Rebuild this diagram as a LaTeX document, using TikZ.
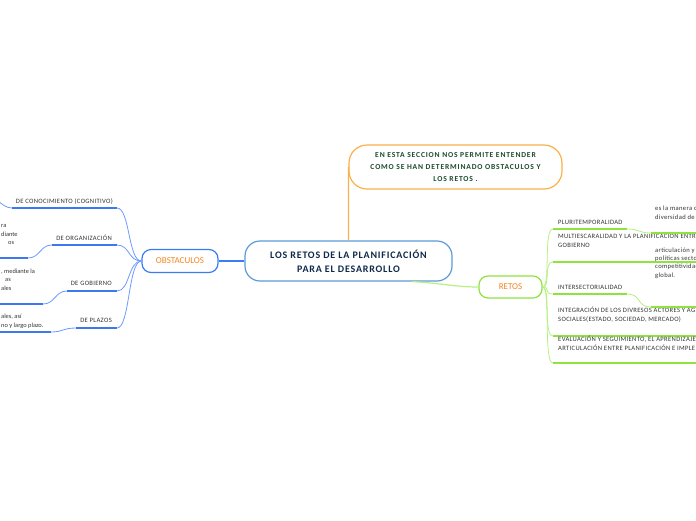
\documentclass[tikz,border=0pt]{standalone}
\usepackage{fontspec}
\setmainfont{Carlito}
\newfontfamily\lscentral[LetterSpace=8]{Carlito}
\newfontfamily\lstop[LetterSpace=11]{Carlito}
\newfontfamily\lssmall[LetterSpace=5]{Carlito}
\definecolor{bline}{HTML}{6C9BFF}
\definecolor{bthick}{HTML}{3D78F0}
\definecolor{bbox}{HTML}{3B7CF5}
\definecolor{cbox}{HTML}{5A9AD8}
\definecolor{gline}{HTML}{B6EF82}
\definecolor{gthick}{HTML}{8FE33E}
\definecolor{obox}{HTML}{F9B14A}
\definecolor{otext}{HTML}{F5861F}
\definecolor{navy}{HTML}{10294A}
\definecolor{dgreen}{HTML}{1C4A2C}
\definecolor{stext}{HTML}{333333}
\tikzset{
  central/.style={draw=cbox, line width=1.2pt, fill=white, rounded corners=15pt,
    minimum width=207pt, minimum height=40pt, align=center, text=navy,
    font=\lscentral\fontsize{10}{14}\selectfont\bfseries, inner sep=0pt},
  topbox/.style={draw=obox, line width=1.2pt, fill=white, rounded corners=18pt,
    minimum width=213pt, minimum height=44pt, align=center, text=dgreen,
    font=\lstop\fontsize{7.6}{12}\selectfont\bfseries, inner sep=0pt},
  mainbr/.style={line width=1.2pt, fill=white, rounded corners=9pt,
    minimum height=23pt, text=otext, font=\fontsize{9}{10}\selectfont, inner sep=0pt},
  small/.style={text=stext, font=\lssmall\fontsize{6.6}{9}\selectfont, inner sep=0pt},
  frag/.style={text=stext, font=\fontsize{6.4}{9}\selectfont, inner sep=0pt},
  bcurve/.style={draw=bline, line width=0.8pt},
  bunder/.style={draw=bthick, line width=1.8pt},
  gcurve/.style={draw=gline, line width=0.8pt},
  gunder/.style={draw=gthick, line width=1.8pt},
}
\begin{document}
\begin{tikzpicture}[x=1pt,y=-1pt]
\useasboundingbox (0,0) rectangle (696,520);
\clip (0,0) rectangle (696,520);

% central and top
\node[central] (c) at (348.5,261) {LOS RETOS DE LA PLANIFICACIÓN\\PARA EL DESARROLLO};
\node[topbox] (t) at (455.5,167) {EN ESTA SECCION NOS PERMITE ENTENDER\\COMO SE HAN DETERMINADO OBSTACULOS Y\\LOS RETOS .};
\draw[draw=obox, line width=1.2pt] (t.west) -- (c.north);

% OBSTACULOS
\node[mainbr, draw=bbox, minimum width=76pt] (o) at (180,261) {OBSTACULOS};
\draw[draw=bbox, line width=1.2pt] (c.west) -- (o.east);

% left branch coordinates
\coordinate (a1r) at (117,208); \coordinate (a1l) at (12,208);
\coordinate (a2r) at (117,245); \coordinate (a2l) at (52,245);
\coordinate (a3r) at (117,291); \coordinate (a3l) at (67,291);
\coordinate (a4r) at (117,328); \coordinate (a4l) at (76,328);
\coordinate (b1e) at (-20,192);
\coordinate (b2r) at (28,258); \coordinate (b2l) at (-5,258);
\coordinate (b3r) at (43,304); \coordinate (b3l) at (-5,304);
\coordinate (b4r) at (51,332); \coordinate (b4l) at (-5,332);

\foreach \i in {1,2,3,4}{
  \draw[bcurve] (o.west) .. controls (128,261) and (130,0|-a\i r) .. (a\i r);
  \draw[bunder] (a\i l) -- (a\i r);
}
\node[small, anchor=base east] (l1) at (113,203) {DE CONOCIMIENTO (COGNITIVO)};
\node[small, anchor=base east] (l2) at (112,240) {DE ORGANIZACIÓN};
\node[small, anchor=base east] (l3) at (112,285) {DE GOBIERNO};
\node[small, anchor=base east] (l4) at (112,322) {DE PLAZOS};

% left children
\draw[bcurve] (a1l) .. controls (0,208) and (-5,192) .. (b1e);
\draw[bcurve] (b2r) .. controls (40,258) and (40,245) .. (a2l);
\draw[bunder] (b2l) -- (b2r);
\draw[bcurve] (b3r) .. controls (55,304) and (55,291) .. (a3l);
\draw[bunder] (b3l) -- (b3r);
\draw[bcurve] (b4r) .. controls (63,332) and (63,328) .. (a4l);
\draw[bunder] (b4l) -- (b4r);

\node[frag, anchor=base west] (k2a) at (1,227) {ra};
\node[frag, anchor=base west] (k2b) at (1,236) {diante};
\node[frag, anchor=base west] (k2c) at (8,244) {os};
\node[frag, anchor=base west] (k3a) at (1,273) {, mediante la};
\node[frag, anchor=base west] (k3b) at (5,281) {as};
\node[frag, anchor=base west] (k3c) at (1,290) {ales};
\node[frag, anchor=base west] (k4a) at (1,318) {ales, así};
\node[frag, anchor=base west] (k4b) at (1,327) {no y largo plazo.};

% RETOS
\node[mainbr, draw=gthick, minimum width=63pt, minimum height=22pt] (r) at (510.5,287) {RETOS};
\draw[gcurve, line width=1.2pt] (c.342) .. controls (440,283) and (455,287) .. (r.west);

\coordinate (d1l) at (553,229); \coordinate (d1r) at (627,229);
\coordinate (d2l) at (553,262); \coordinate (d2r) at (700,262);
\coordinate (d3l) at (553,294); \coordinate (d3r) at (627,294);
\coordinate (d4l) at (553,336); \coordinate (d4r) at (700,336);
\coordinate (d5l) at (553,363); \coordinate (d5r) at (700,363);
\foreach \i in {1,...,5}{
  \draw[gcurve] (r.east) .. controls (551,287) and (543,0|-d\i l) .. (d\i l);
  \draw[gunder] (d\i l) -- (d\i r);
}
\node[small, anchor=base west] (m1) at (558,224) {PLURITEMPORALIDAD};
\node[small, anchor=base west, align=left] (m2) at (558,247) {MULTIESCARALIDAD Y LA PLANIFICACIÓN ENTRE\\GOBIERNO};
\node[small, anchor=base west] (m3) at (558,289) {INTERSECTORIALIDAD};
\node[small, anchor=base west, align=left] (m4) at (558,321) {INTEGRACIÓN DE LOS DIVRESOS ACTORES Y AGE\\SOCIALES(ESTADO, SOCIEDAD, MERCADO)};
\node[small, anchor=base west, align=left] (m5) at (558,350) {EVALUACIÓN Y SEGUIMIENTO, EL APRENDIZAJE Y\\ARTICULACIÓN ENTRE PLANIFICACIÓN E IMPLEM};

% right children
\coordinate (e1l) at (651,233); \coordinate (e1r) at (700,233);
\coordinate (e3l) at (651,307); \coordinate (e3r) at (700,307);
\draw[gcurve] (d1r) .. controls (640,229) and (638,233) .. (e1l);
\draw[gunder] (e1l) -- (e1r);
\draw[gcurve] (d3r) .. controls (642,294) and (636,307) .. (e3l);
\draw[gunder] (e3l) -- (e3r);
\node[small, anchor=base west, align=left] (n1) at (655,219) {es la manera c\\diversidad de p};
\node[small, anchor=base west, align=left, font=\lssmall\fontsize{6.6}{8.2}\selectfont] (n3) at (655,277) {articulación y r\\políticas sector\\competitividad\\global.};
\end{tikzpicture}
\end{document}
